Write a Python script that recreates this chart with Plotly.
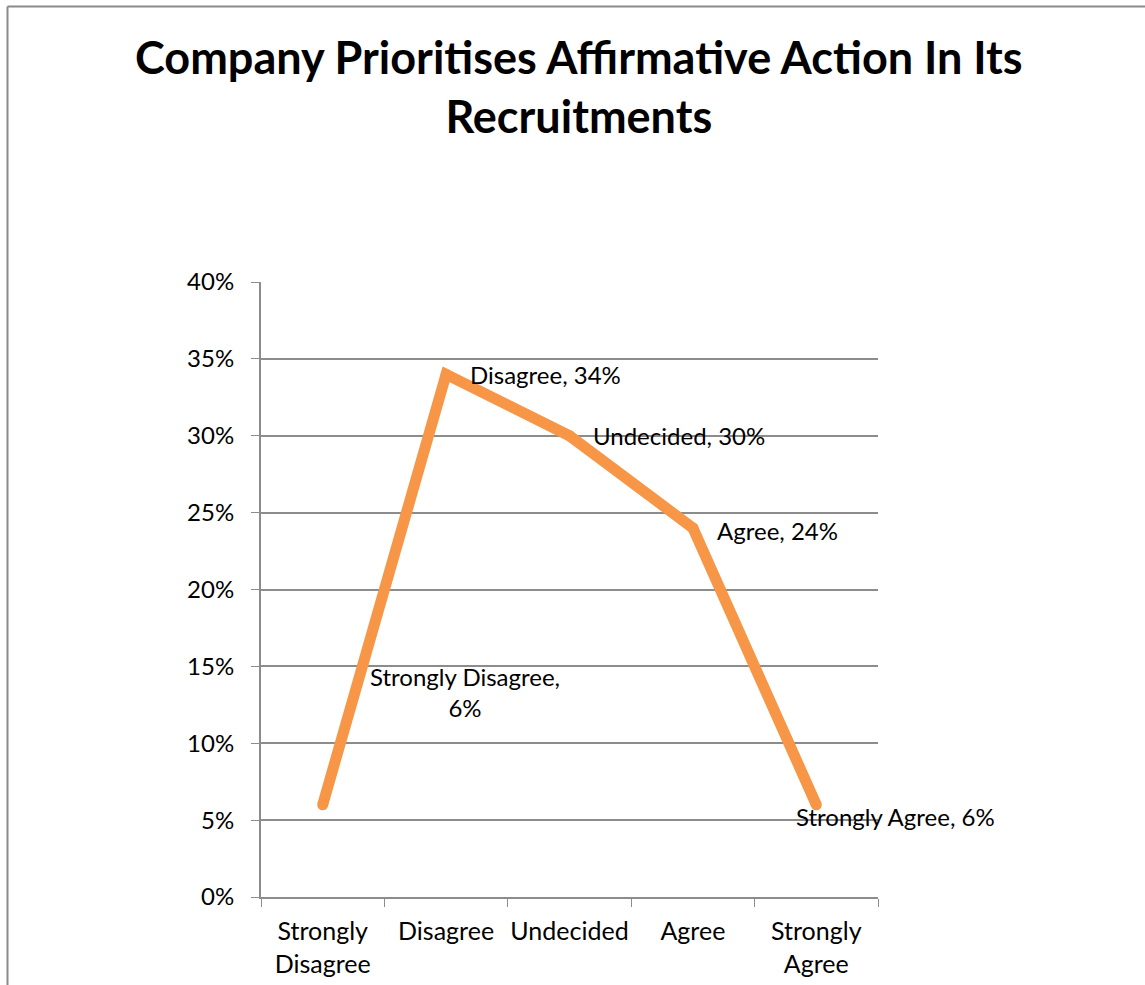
import plotly.graph_objects as go

# Survey responses
categories = ["Strongly Disagree", "Disagree", "Undecided", "Agree", "Strongly Agree"]
tick_labels = ["Strongly<br>Disagree", "Disagree", "Undecided", "Agree", "Strongly<br>Agree"]
shares = [6, 34, 30, 24, 6]  # percent of respondents

W, H = 1145, 985
L, R, T, B = 261, 878, 282, 897  # plot area in pixels

def px(x):
    return (x - L) / (R - L)

def py(y):
    return (B - y) / (B - T)

ORANGE = "#F79646"
GRID = "#8C8C8C"
FONT = "Lato, Open Sans, sans-serif"
FS = 24

fig = go.Figure()
fig.add_trace(go.Scatter(
    x=categories, y=[v / 100 for v in shares],
    mode="lines+markers",
    line=dict(color=ORANGE, width=11),
    marker=dict(color=ORANGE, size=11),
    hoverinfo="skip", showlegend=False,
))

# data labels: (text, xshift, yshift, xanchor)
label_pos = [
    ("Strongly Disagree,<br>6%", 142, 113, "center"),
    ("Disagree, {}%", 22, 0, "left"),
    ("Undecided, {}%", 21, 0, "left"),
    ("Agree, {}%", 22, -2, "left"),
    ("Strongly Agree, {}%", -22, -12, "left"),
]
for cat, val, (txt, dx, dy, anchor) in zip(categories, shares, label_pos):
    text = txt.format(val) if "{}" in txt else txt
    fig.add_annotation(
        x=cat, y=val / 100, text=text, showarrow=False,
        xanchor=anchor, yanchor="middle", xshift=dx, yshift=dy,
        align="center", font=dict(family=FONT, size=FS, color="#000000"),
    )

# chart title
fig.add_annotation(
    x=px(579), y=py(86), xref="paper", yref="paper",
    text="<b>Company Prioritises Affirmative Action In Its<br>Recruitments</b>",
    showarrow=False, xanchor="center", yanchor="middle", align="center",
    font=dict(family=FONT, size=45, color="#000000"),
)

# chart frame (left and top edges)
fig.add_shape(type="line", xref="paper", yref="paper",
              x0=px(7.5), y0=py(6.5), x1=px(7.5), y1=py(1000),
              line=dict(color="#8A8A8A", width=2))
fig.add_shape(type="line", xref="paper", yref="paper",
              x0=px(7.5), y0=py(6.5), x1=px(1160), y1=py(6.5),
              line=dict(color="#8A8A8A", width=2))

fig.update_layout(
    width=W, height=H,
    margin=dict(l=L, r=W - R, t=T, b=H - B, autoexpand=False),
    paper_bgcolor="white", plot_bgcolor="white",
    font=dict(family=FONT, size=FS, color="#000000"),
    xaxis=dict(
        type="category", tickmode="array", tickvals=categories, ticktext=tick_labels,
        tickson="boundaries", ticks="outside", ticklen=8, tickcolor=GRID,
        showline=True, linecolor=GRID, linewidth=2, showgrid=False,
        range=[-0.5, 4.5], tickfont=dict(size=25), tickangle=0, ticklabelstandoff=11,
    ),
    yaxis=dict(
        range=[0, 0.4], tickvals=[0, 0.05, 0.1, 0.15, 0.2, 0.25, 0.3, 0.35, 0.4],
        tickformat=".0%", ticks="outside", ticklen=8, tickcolor=GRID,
        showline=True, linecolor=GRID, linewidth=2,
        showgrid=True, gridcolor=GRID, gridwidth=1.5, zeroline=False,
        tickfont=dict(size=FS), ticklabelstandoff=12,
    ),
)

fig.write_html("out.html")
